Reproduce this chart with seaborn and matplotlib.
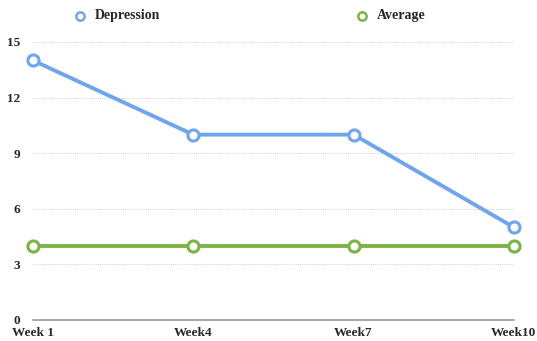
import matplotlib
matplotlib.use("Agg")
import matplotlib.pyplot as plt
import seaborn as sns
import pandas as pd

weeks = ["Week 1", "Week4", "Week7", "Week10"]
depression = [14, 10, 10, 5]
average = [4, 4, 4, 4]
y_ticks = [0, 3, 6, 9, 12, 15]

sns.set_style("white")
plt.rcParams["font.family"] = ["Liberation Serif", "DejaVu Serif"]
plt.rcParams["font.weight"] = "bold"

df = pd.DataFrame({
    "week": weeks * 2,
    "value": depression + average,
    "series": ["Depression"] * len(weeks) + ["Average"] * len(weeks),
})
df["x"] = list(range(len(weeks))) * 2

palette = {"Depression": "#6fa5ee", "Average": "#79b544"}

fig = plt.figure(figsize=(5.37, 3.41), dpi=100)
ax = fig.add_axes([0.0615, 0.0616, 0.8955, 0.8154])

sns.lineplot(data=df, x="x", y="value", hue="series", palette=palette,
             linewidth=2.8, marker="o", markersize=8, markerfacecolor="white",
             markeredgewidth=2.2, ax=ax, legend=False, clip_on=False, zorder=3)
for line in ax.lines:
    line.set_markeredgecolor(line.get_color())

ax.set_xlim(0, len(weeks) - 1)
ax.set_ylim(0, 15)
ax.set_yticks(y_ticks)
ax.set_yticklabels([str(t) for t in y_ticks], fontsize=9.5, fontweight="bold")
ax.set_xticks(range(len(weeks)))
ax.set_xticklabels(weeks, fontsize=9.5, fontweight="bold")
ax.tick_params(axis="both", length=0)
ax.tick_params(axis="y", pad=9)
ax.tick_params(axis="x", pad=5)
ax.set_xlabel("")
ax.set_ylabel("")

for t in y_ticks[1:]:
    ax.axhline(t, color="#c4c4c4", linewidth=0.6, linestyle=(0, (1, 1.5)), zorder=1)
for s in ["top", "right", "left"]:
    ax.spines[s].set_visible(False)
ax.spines["bottom"].set_color("#8f8f8f")
ax.spines["bottom"].set_linewidth(1.1)

# legend entries placed across the top
for name, xpos in [("Depression", 80 / 537), ("Average", 362 / 537)]:
    fig.lines.append(plt.Line2D([xpos], [1 - 16 / 341], transform=fig.transFigure,
                                marker="o", markersize=6, markerfacecolor="white",
                                markeredgecolor=palette[name], markeredgewidth=1.8,
                                linestyle="none"))
    fig.text(xpos + 15 / 537, 1 - 16 / 341, name, fontsize=10, fontweight="bold",
             va="center", ha="left")

fig.savefig("out.png", dpi=100)
